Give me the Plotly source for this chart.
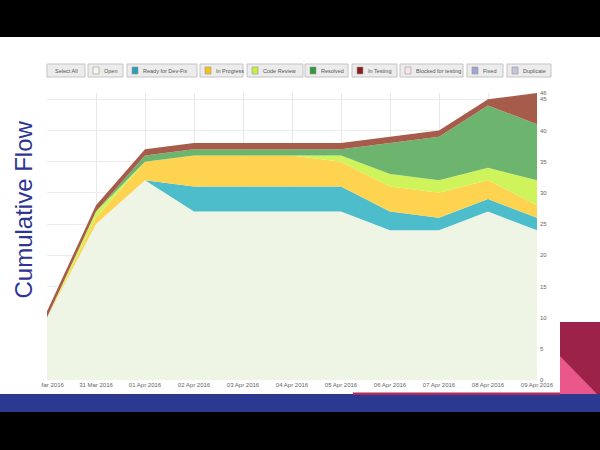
import plotly.graph_objects as go

# ---------------- data ----------------
dates = ["30 Mar 2016", "31 Mar 2016", "01 Apr 2016", "02 Apr 2016", "03 Apr 2016",
         "04 Apr 2016", "05 Apr 2016", "06 Apr 2016", "07 Apr 2016", "08 Apr 2016",
         "09 Apr 2016"]
open_items = [10, 25, 32, 27, 27, 27, 27, 24, 24, 27, 24]
ready_for_dev_fix = [0, 0, 0, 4, 4, 4, 4, 3, 2, 2, 2]
in_progress = [0, 1, 3, 5, 5, 5, 4, 4, 4, 3, 2]
code_review = [0, 1, 0, 0, 0, 0, 1, 2, 2, 2, 4]
resolved = [0, 0, 1, 1, 1, 1, 1, 5, 7, 10, 9]
in_testing = [1, 1, 1, 1, 1, 1, 1, 1, 1, 1, 5]

y_ticks = [0, 5, 10, 15, 20, 25, 30, 35, 40, 45, 46]

legend_labels = ["Select All", "Open", "Ready for Dev-Fix", "In Progress", "Code Review",
                 "Resolved", "In Testing", "Blocked for testing", "Fixed", "Duplicate"]

title_text = "Cumulative Flow"

# ---------------- styles ----------------
series = [
    ("Open", open_items, "#eff5e5"),
    ("Ready for Dev-Fix", ready_for_dev_fix, "#4dbdcb"),
    ("In Progress", in_progress, "#fdd34f"),
    ("Code Review", code_review, "#cff45b"),
    ("Resolved", resolved, "#6db56e"),
    ("In Testing", in_testing, "#a75b4b"),
]
swatch_colors = [None, "#f6f6ea", "#2a9fb0", "#f5c21a", "#c6ee45", "#2f9a3c",
                 "#8c1c1a", "#f9e4ea", "#a3a3d3", "#c3c3da"]
# button pixel extents (x0, x1)
button_x = [(47, 85), (88, 123), (127, 197), (200, 243), (247, 303),
            (305, 348), (352, 397), (400, 463), (467, 503), (507, 551)]

W, H = 600, 450


def px(x):
    return x / W


def py(y):
    return 1 - y / H


fig = go.Figure()
for name, vals, col in series:
    fig.add_trace(go.Scatter(
        x=dates, y=vals, name=name, stackgroup="one", mode="lines",
        line=dict(width=0, color=col), fillcolor=col, showlegend=False,
        hoverinfo="skip"))

shapes = []
annotations = []

# slide backgrounds
shapes.append(dict(type="rect", xref="paper", yref="paper", x0=0, x1=1,
                   y0=py(412), y1=py(37), fillcolor="white", line_width=0, layer="below"))
shapes.append(dict(type="rect", xref="paper", yref="paper", x0=0, x1=1,
                   y0=py(412), y1=py(394), fillcolor="#2b3990", line_width=0, layer="above"))
shapes.append(dict(type="rect", xref="paper", yref="paper", x0=px(353), x1=px(560),
                   y0=py(395), y1=py(392.5), fillcolor="#b02a5c", line_width=0, layer="above"))
# clip first tick label like the screenshot
shapes.append(dict(type="rect", xref="paper", yref="paper", x0=0, x1=px(41.5),
                   y0=py(392), y1=py(381), fillcolor="white", line_width=0, layer="above"))
# decorative magenta shapes bottom right
shapes.append(dict(type="rect", xref="paper", yref="paper", x0=px(560), x1=1,
                   y0=py(394), y1=py(322), fillcolor="#9c2249", line_width=0, layer="above"))
shapes.append(dict(type="path", xref="paper", yref="paper",
                   path=f"M {px(560)},{py(356)} L {px(560)},{py(394)} L {px(597)},{py(394)} Z",
                   fillcolor="#e9578b", line_width=0, layer="above"))

# legend buttons bar
for i, (lab, (x0, x1)) in enumerate(zip(legend_labels, button_x)):
    shapes.append(dict(type="rect", xref="paper", yref="paper", x0=px(x0), x1=px(x1),
                       y0=py(77), y1=py(64), fillcolor="#ececec",
                       line=dict(color="#c4c4c4", width=1), layer="above"))
    if swatch_colors[i] is None:
        annotations.append(dict(x=px((x0 + x1) / 2), y=py(70.5), xref="paper", yref="paper",
                                text=lab, showarrow=False, xanchor="center", yanchor="middle",
                                font=dict(size=5.5, color="#555", family="Liberation Sans")))
    else:
        sx = x0 + 5
        shapes.append(dict(type="rect", xref="paper", yref="paper", x0=px(sx), x1=px(sx + 6),
                           y0=py(74), y1=py(67), fillcolor=swatch_colors[i],
                           line=dict(color="#999", width=0.6), layer="above"))
        annotations.append(dict(x=px(sx + 8.5), y=py(70.5), xref="paper", yref="paper",
                                text=lab, showarrow=False, xanchor="left", yanchor="middle",
                                font=dict(size=5.5, color="#555", family="Liberation Sans")))

# rotated title
annotations.append(dict(x=px(22.5), y=py(210), xref="paper", yref="paper", text=title_text,
                        showarrow=False, textangle=-90, xanchor="center", yanchor="middle",
                        font=dict(size=24, color="#2e3592", family="Liberation Sans")))

fig.update_layout(
    width=W, height=H,
    margin=dict(l=0, r=0, t=0, b=0, pad=0),
    paper_bgcolor="black",
    plot_bgcolor="white",
    shapes=shapes,
    annotations=annotations,
    showlegend=False,
    xaxis=dict(domain=[px(47), px(537)], type="category", range=[0, len(dates) - 1],
               automargin=False,
               showgrid=True, gridcolor="#e8e8e8", gridwidth=1, zeroline=False,
               showline=False, ticks="", tickfont=dict(size=6, color="#666",
                                                        family="Liberation Sans"),
               tickangle=0, fixedrange=True),
    yaxis=dict(domain=[py(380), py(93)], range=[0, 46], side="right",
               automargin=False,
               tickvals=y_ticks, ticktext=[str(v) for v in y_ticks],
               showgrid=True, gridcolor="#ececec", gridwidth=1, zeroline=False,
               showline=False, ticks="", ticklabelstandoff=2,
               tickfont=dict(size=6, color="#666", family="Liberation Sans"),
               fixedrange=True),
)

fig.write_html("out.html")
